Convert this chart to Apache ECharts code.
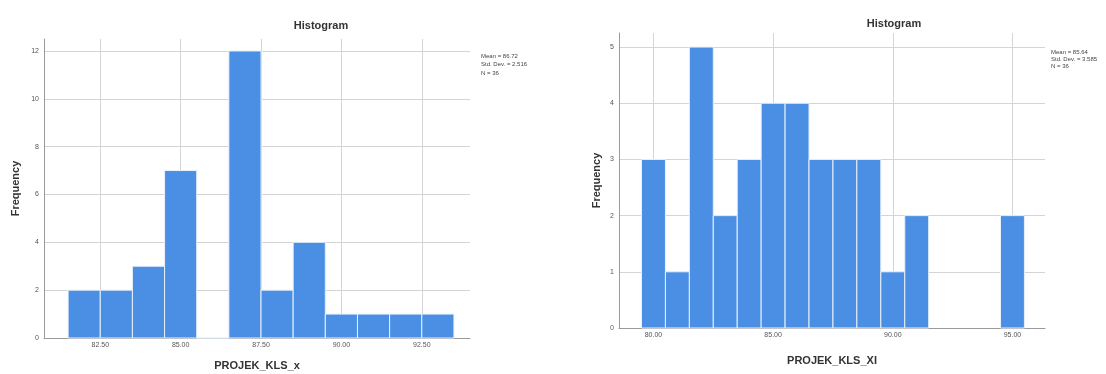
<!DOCTYPE html>
<html>
<head>
<meta charset="utf-8">
<script src="https://cdn.jsdelivr.net/npm/echarts@6/dist/echarts.min.js"></script>
<style>
html,body{margin:0;padding:0;background:#fff;}
#c{width:1106px;height:374px;}
</style>
</head>
<body>
<div id="c"></div>
<script>
// Left histogram (PROJEK_KLS_x)
const leftBinCenters = [82, 83, 84, 85, 86, 87, 88, 89, 90, 91, 92, 93];
const leftCounts     = [2, 2, 3, 7, 0, 12, 2, 4, 1, 1, 1, 1];
const leftXTicks     = [82.5, 85, 87.5, 90, 92.5];
const leftYTicks     = [0, 2, 4, 6, 8, 10, 12];
const leftStats      = ['Mean = 86.72', 'Std. Dev. = 2.516', 'N = 36'];

// Right histogram (PROJEK_KLS_XI)
const rightBinCenters = [80, 81, 82, 83, 84, 85, 86, 87, 88, 89, 90, 91, 95];
const rightCounts     = [3, 1, 5, 2, 3, 4, 4, 3, 3, 3, 1, 2, 2];
const rightXTicks     = [80, 85, 90, 95];
const rightYTicks     = [0, 1, 2, 3, 4, 5];
const rightStats      = ['Mean = 85.64', 'Std. Dev. = 3.585', 'N = 36'];

const BIN_WIDTH = 1;
const FONT = '"Liberation Sans", Arial, sans-serif';
const BAR = '#4a8fe3';

function toBars(centers, counts) {
  return centers.map((c, i) => [c - BIN_WIDTH / 2, c + BIN_WIDTH / 2, counts[i]]);
}

function renderItem(params, api) {
  const p0 = api.coord([api.value(0), api.value(2)]);
  const p1 = api.coord([api.value(1), 0]);
  return {
    type: 'rect',
    shape: { x: p0[0], y: p0[1], width: p1[0] - p0[0], height: p1[1] - p0[1] },
    style: { fill: BAR, stroke: '#e8f0fb', lineWidth: 1 }
  };
}

function xAxisCfg(gridIndex, min, max, ticks, name, gap) {
  return {
    type: 'value', gridIndex, min, max,
    name, nameLocation: 'middle', nameGap: gap,
    nameTextStyle: { fontFamily: FONT, fontWeight: 'bold', fontSize: 11, color: '#333' },
    axisLine: { show: true, lineStyle: { color: '#9a9a9a', width: 1 } },
    axisTick: { show: false, customValues: ticks },
    axisLabel: { customValues: ticks, fontFamily: FONT, fontSize: 7, color: '#555', margin: 4,
                 formatter: v => v.toFixed(2) },
    splitLine: { show: true, lineStyle: { color: '#d4d4d4', width: 1 } }
  };
}

function yAxisCfg(gridIndex, max, ticks, gap) {
  return {
    type: 'value', gridIndex, min: 0, max,
    name: 'Frequency', nameLocation: 'middle', nameGap: gap,
    nameTextStyle: { fontFamily: FONT, fontWeight: 'bold', fontSize: 11, color: '#333' },
    axisLine: { show: true, lineStyle: { color: '#9a9a9a', width: 1 } },
    axisTick: { show: false, customValues: ticks },
    axisLabel: { customValues: ticks, fontFamily: FONT, fontSize: 7, color: '#555', margin: 5 },
    splitLine: { show: true, lineStyle: { color: '#d4d4d4', width: 1 } }
  };
}

const chart = echarts.init(document.getElementById('c'), null, { renderer: 'canvas' });

chart.setOption({
  backgroundColor: '#ffffff',
  animation: false,
  title: [
    { text: 'Histogram', left: 316, top: 15, textAlign: 'center',
      textStyle: { fontFamily: FONT, fontWeight: 'bold', fontSize: 11, color: '#333' } },
    { text: 'Histogram', left: 889, top: 13, textAlign: 'center',
      textStyle: { fontFamily: FONT, fontWeight: 'bold', fontSize: 11, color: '#333' } }
  ],
  grid: [
    { left: 44, right: 636, top: 39, bottom: 36, outerBoundsMode: 'none', containLabel: false },
    { left: 619, right: 61, top: 33, bottom: 46, outerBoundsMode: 'none', containLabel: false }
  ],
  xAxis: [
    xAxisCfg(0, 80.75, 94, leftXTicks, 'PROJEK_KLS_x', 22),
    xAxisCfg(1, 78.56, 96.36, rightXTicks, 'PROJEK_KLS_XI', 27)
  ],
  yAxis: [
    yAxisCfg(0, 12.5, leftYTicks, 23),
    yAxisCfg(1, 5.25, rightYTicks, 17)
  ],
  graphic: [
    { type: 'text', left: 481, top: 52,
      style: { text: leftStats.join('\n'), fontFamily: FONT, fontSize: 6, lineHeight: 8.5, fill: '#444' } },
    { type: 'text', left: 1051, top: 49,
      style: { text: rightStats.join('\n'), fontFamily: FONT, fontSize: 6, lineHeight: 7, fill: '#444' } }
  ],
  series: [
    { type: 'custom', xAxisIndex: 0, yAxisIndex: 0, renderItem,
      encode: { x: [0, 1], y: 2 }, data: toBars(leftBinCenters, leftCounts) },
    { type: 'custom', xAxisIndex: 1, yAxisIndex: 1, renderItem,
      encode: { x: [0, 1], y: 2 }, data: toBars(rightBinCenters, rightCounts) }
  ]
});
</script>
</body>
</html>
